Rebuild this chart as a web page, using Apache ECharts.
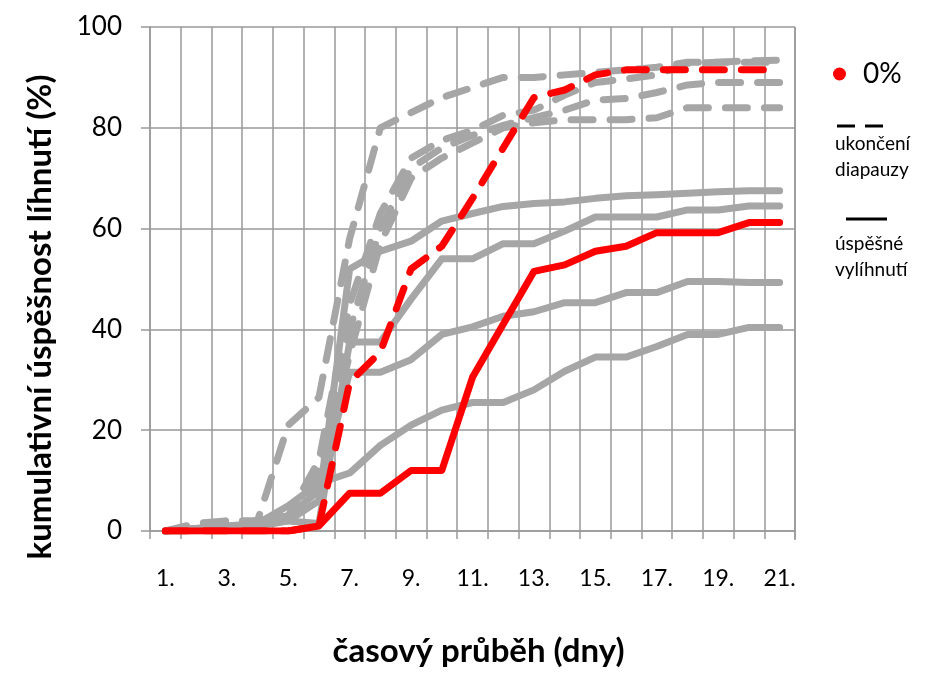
<!DOCTYPE html>
<html>
<head>
<meta charset="utf-8">
<script src="https://cdn.jsdelivr.net/npm/echarts@6/dist/echarts.min.js"></script>
<style>
    html, body { margin: 0; padding: 0; background: #fff; }
    #chart { width: 926px; height: 673px; }
</style>
</head>
<body>
<div id="chart"></div>
<script>
// dny 1. - 21.
const days = ['1.', '2.', '3.', '4.', '5.', '6.', '7.', '8.', '9.', '10.', '11.',
    '12.', '13.', '14.', '15.', '16.', '17.', '18.', '19.', '20.', '21.'];
const yTicks = [0, 20, 40, 60, 80, 100];

// 0% - cervene
const red0Diapauza = [0, 0, 0, 0, 0, 1, 29.5, 35.5, 52, 56.5, 66, 76, 86, 87.5, 90.5, 91.5, 91.5, 91.5, 91.5, 91.5, 91.5];
const red0Lihnuti = [0, 0, 0, 0, 0, 1, 7.5, 7.5, 12, 12, 30.5, 41, 51.5, 52.8, 55.5, 56.5, 59.2, 59.2, 59.2, 61.2, 61.2];

// ostatni - sede, ukonceni diapauzy (carkovane)
const grayDiapauza1 = [0, 1.5, 2, 2, 21, 26.5, 58, 80, 83, 86, 88, 90, 90, 90.5, 91, 91.5, 92, 93, 93, 93.3, 93.4];
const grayDiapauza2 = [0, 1, 2, 2, 3, 14, 45, 63, 74, 77.5, 79.5, 82.5, 83.5, 86.5, 89, 89.7, 90.5, 92.8, 93, 93, 93];
const grayDiapauza3 = [0, 1, 1.5, 2, 3, 12, 40, 60, 72, 76, 78.5, 80.5, 82, 83.5, 85.5, 85.8, 87, 88.5, 89, 89, 89];
const grayDiapauza4 = [0, 0.5, 1.5, 2, 2.5, 10, 35, 57, 70, 74, 77, 80, 81, 81.6, 81.6, 81.6, 82, 84, 84, 84, 84];

// sede, uspesne vylihnuti (plne)
const grayLihnuti1 = [0, 0.5, 1, 1, 2, 6, 52, 55.5, 57.5, 61.5, 63, 64.4, 65, 65.3, 66, 66.5, 66.7, 67, 67.3, 67.5, 67.5];
const grayLihnuti2 = [0, 0.5, 0.5, 1, 2, 1.5, 37.5, 37.5, 46, 54, 54, 57, 57, 59.5, 62.3, 62.3, 62.3, 63.7, 63.7, 64.5, 64.5];
const grayLihnuti3 = [0, 0, 0.5, 1, 3, 8, 31.5, 31.5, 34, 39, 40.5, 42.6, 43.5, 45.3, 45.3, 47.3, 47.3, 49.5, 49.5, 49.3, 49.3];
const grayLihnuti4 = [0, 0.5, 1, 1.5, 5, 9.5, 11.5, 17, 21, 24, 25.5, 25.5, 28, 31.7, 34.5, 34.5, 36.6, 39, 39, 40.4, 40.4];

const GRAY = '#a6a6a6';
const RED = '#ff0000';
const FONT = 'Lato';

function makeLine(name, data, color, dashed) {
    return {
        name: name,
        type: 'line',
        data: data,
        symbol: 'none',
        silent: true,
        itemStyle: { color: color },
        lineStyle: {
            color: color,
            width: 7,
            type: dashed ? [22, 17] : 'solid',
            cap: 'round',
            join: 'round'
        }
    };
}

let chart = echarts.init(document.getElementById('chart'));

let option = {
    backgroundColor: '#fff',
    animation: false,
    grid: { left: 150, right: 131, top: 27, bottom: 141 },
    xAxis: {
        type: 'category',
        data: days,
        boundaryGap: true,
        name: 'časový průběh (dny)',
        nameLocation: 'middle',
        nameGap: 104,
        nameTextStyle: { fontFamily: FONT, fontSize: 33, fontWeight: 'bold', color: '#000', padding: [0, 0, 0, 12] },
        axisLine: { lineStyle: { color: '#999', width: 1.5 } },
        axisTick: { show: true, interval: 0, length: 8, lineStyle: { color: '#999', width: 1.5 } },
        axisLabel: { interval: 1, fontFamily: FONT, fontSize: 23, color: '#000', margin: 36 },
        splitLine: { show: true, interval: 0, lineStyle: { color: '#999', width: 1.5 } }
    },
    yAxis: {
        type: 'value',
        min: yTicks[0],
        max: yTicks[yTicks.length - 1],
        interval: 20,
        name: 'kumulativní úspěšnost líhnutí (%)',
        nameLocation: 'middle',
        nameGap: 93,
        nameTextStyle: { fontFamily: FONT, fontSize: 33, fontWeight: 'bold', color: '#000', padding: [0, 76, 0, 0] },
        axisLine: { show: true, lineStyle: { color: '#999', width: 1.5 } },
        axisTick: { show: true, length: 9, lineStyle: { color: '#999', width: 1.5 } },
        axisLabel: { fontFamily: FONT, fontSize: 26, color: '#000', margin: 28 },
        splitLine: { show: true, lineStyle: { color: '#999', width: 1.5 } }
    },
    legend: {
        data: [{ name: '0%', icon: 'circle' }],
        left: 828,
        top: 55,
        itemWidth: 13,
        itemHeight: 13,
        textStyle: { fontFamily: FONT, fontSize: 28, color: '#000', padding: [0, 0, 0, 12] }
    },
    graphic: [
        { type: 'line', shape: { x1: 837, y1: 126, x2: 855, y2: 126 }, style: { stroke: '#000', lineWidth: 3 } },
        { type: 'line', shape: { x1: 865, y1: 126, x2: 883, y2: 126 }, style: { stroke: '#000', lineWidth: 3 } },
        { type: 'text', left: 835, top: 134, style: { text: 'ukončení', font: '19px Lato', fill: '#000' } },
        { type: 'text', left: 835, top: 160, style: { text: 'diapauzy', font: '19px Lato', fill: '#000' } },
        { type: 'line', shape: { x1: 846, y1: 219, x2: 887, y2: 219 }, style: { stroke: '#000', lineWidth: 3 } },
        { type: 'text', left: 835, top: 234, style: { text: 'úspěšné', font: '19px Lato', fill: '#000' } },
        { type: 'text', left: 835, top: 260, style: { text: 'vylíhnutí', font: '19px Lato', fill: '#000' } },
        // pravy okraj plochy grafu
        { type: 'line', z: 0, shape: { x1: 795, y1: 27, x2: 795, y2: 540 }, style: { stroke: '#999', lineWidth: 1.5 } }
    ],
    series: [
        makeLine('ukončení 1', grayDiapauza1, GRAY, true),
        makeLine('ukončení 2', grayDiapauza2, GRAY, true),
        makeLine('ukončení 3', grayDiapauza3, GRAY, true),
        makeLine('ukončení 4', grayDiapauza4, GRAY, true),
        makeLine('vylíhnutí 1', grayLihnuti1, GRAY, false),
        makeLine('vylíhnutí 2', grayLihnuti2, GRAY, false),
        makeLine('vylíhnutí 3', grayLihnuti3, GRAY, false),
        makeLine('vylíhnutí 4', grayLihnuti4, GRAY, false),
        makeLine('0%', red0Lihnuti, RED, false),
        makeLine('0%', red0Diapauza, RED, true)
    ]
};

chart.setOption(option);
</script>
</body>
</html>
